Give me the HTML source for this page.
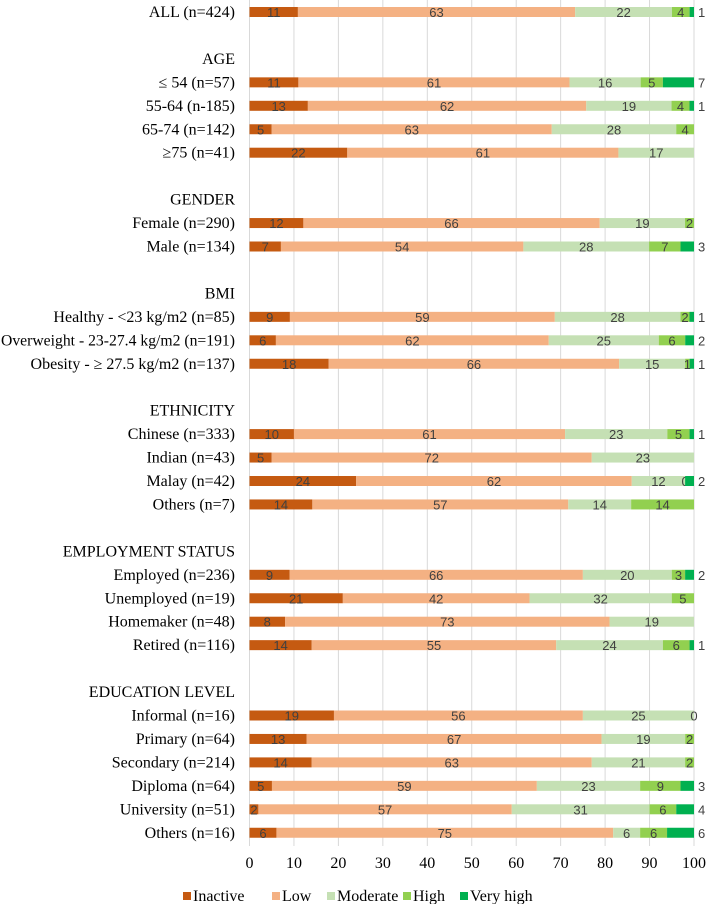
<!DOCTYPE html>
<html><head><meta charset="utf-8"><style>
html,body{margin:0;padding:0;background:#fff;}
svg{display:block;}
</style></head><body>
<svg id="chart" width="708" height="904" xmlns="http://www.w3.org/2000/svg"></svg>
<script>
const categories = ["ALL (n=424)","","AGE","≤ 54 (n=57)","55-64 (n-185)","65-74 (n=142)","≥75 (n=41)","","GENDER","Female (n=290)","Male (n=134)","","BMI","Healthy - <23 kg/m2 (n=85)","Overweight - 23-27.4 kg/m2 (n=191)","Obesity - ≥ 27.5 kg/m2 (n=137)","","ETHNICITY","Chinese (n=333)","Indian (n=43)","Malay (n=42)","Others (n=7)","","EMPLOYMENT STATUS","Employed (n=236)","Unemployed (n=19)","Homemaker (n=48)","Retired (n=116)","","EDUCATION LEVEL","Informal (n=16)","Primary (n=64)","Secondary (n=214)","Diploma (n=64)","University (n=51)","Others (n=16)"];
const inactive = [11,null,null,11,13,5,22,null,null,12,7,null,null,9,6,18,null,null,10,5,24,14,null,null,9,21,8,14,null,null,19,13,14,5,2,6];
const low      = [63,null,null,61,62,63,61,null,null,66,54,null,null,59,62,66,null,null,61,72,62,57,null,null,66,42,73,55,null,null,56,67,63,59,57,75];
const moderate = [22,null,null,16,19,28,17,null,null,19,28,null,null,28,25,15,null,null,23,23,12,14,null,null,20,32,19,24,null,null,25,19,21,23,31,6];
const high     = [4,null,null,5,4,4,0,null,null,2,7,null,null,2,6,1,null,null,5,0,0,14,null,null,3,5,0,6,null,null,0,2,2,9,6,6];
const veryHigh = [1,null,null,7,1,0,0,null,null,0,3,null,null,1,2,1,null,null,1,0,2,0,null,null,2,0,0,1,null,null,0,0,0,3,4,6];
const showZeroHigh = [20,30];
const xTicks = [0,10,20,30,40,50,60,70,80,90,100];
const seriesNames = ["Inactive","Low","Moderate","High","Very high"];
const colors = ["#c55a11","#f4b183","#c5e0b4","#92d050","#00b050"];

const SERIF="font-family:'Liberation Serif','Times New Roman',Times,'Noto Serif CJK SC',serif;";
const SANS="font-family:'Liberation Sans',Arial,'DejaVu Sans',sans-serif;";
const NS="http://www.w3.org/2000/svg";
const svg=document.getElementById('chart');
const X0=249.5,X1=694;
const xs=v=>X0+(X1-X0)*v/100;
const ys=i=>12+23.45*i;
const BH=10;
function mk(t,a,txt){const e=document.createElementNS(NS,t);for(const k in a)e.setAttribute(k,a[k]);if(txt!==undefined)e.textContent=txt;svg.appendChild(e);return e;}

xTicks.forEach(t=>{
  const l=mk('line',{x1:xs(t),x2:xs(t),y1:0,y2:846,stroke:'#d9d9d9','stroke-width':1});
  
  
  const tx=mk('text',{x:xs(t),y:868,'text-anchor':'middle',style:SERIF+'font-size:16px;',fill:'#000'},String(t));
  
  
});

const series=[inactive,low,moderate,high,veryHigh];
categories.forEach((c,i)=>{
  const y=ys(i);
  if(c){
    const lb=mk('text',{x:235,y:y+5,'text-anchor':'end',style:SERIF+'font-size:16px;',fill:'#000'},c);
    
    
    try{ if(lb.getComputedTextLength()>234){ lb.setAttribute('textLength',234); lb.setAttribute('lengthAdjust','spacingAndGlyphs'); } }catch(e){}
  }
  if(inactive[i]===null) return;
  const vals=series.map(s=>s[i]);
  const sum=vals.reduce((a,b)=>a+b,0);
  let acc=0;
  vals.forEach((v,k)=>{
    const x=xs(acc/sum*100), w=xs((acc+v)/sum*100)-x;
    if(v>0){
      const r=mk('rect',{x:x,y:y-BH/2,width:w,height:BH,fill:colors[k]});
      
      
    }
    const showZero=(k===3&&v===0&&showZeroHigh.includes(i));
    if(k<4&&(v>0||showZero)){
      const t=mk('text',{x:x+w/2,y:y+5,'text-anchor':'middle',style:SANS+'font-size:13px;',fill:'#404040'},String(v));
      
      
    }
    if(k===4&&v>0){
      const t=mk('text',{x:698,y:y+5,'text-anchor':'start',style:SANS+'font-size:13px;',fill:'#404040'},String(v));
      
      
    }
    acc+=v;
  });
});

const legX=[183,272,327,403,460];
seriesNames.forEach((n,k)=>{
  const r=mk('rect',{x:legX[k],y:892,width:8,height:8,fill:colors[k]});
  
  
  const t=mk('text',{x:legX[k]+10,y:901,style:SERIF+'font-size:16px;',fill:'#000'},n);
  
  
});
</script>
</body></html>
